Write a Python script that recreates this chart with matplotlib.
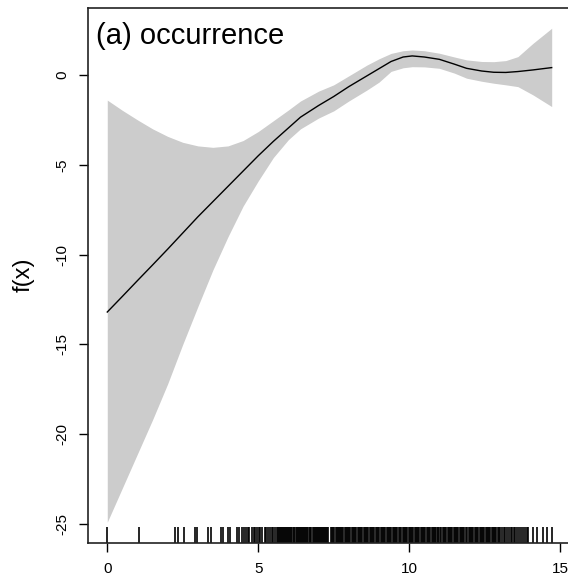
import numpy as np
import matplotlib
matplotlib.use("Agg")
import matplotlib.pyplot as plt

plt.rcParams['font.family'] = ['Liberation Sans', 'DejaVu Sans']

# smooth term estimate and its confidence band
x_fit = [0.0, 0.5, 1.0, 1.5, 2.0, 2.5, 3.0, 3.5, 4.0, 4.5, 5.0, 5.5, 6.0, 6.4,
         7.0, 7.5, 8.0, 8.6, 9.0, 9.4, 9.8, 10.1, 10.5, 11.0, 11.5, 11.9, 12.4,
         12.8, 13.2, 13.6, 14.1, 14.72]
fit = [-13.2, -12.33, -11.45, -10.58, -9.7, -8.8, -7.9, -7.05, -6.2, -5.35,
       -4.5, -3.7, -2.95, -2.35, -1.7, -1.2, -0.65, -0.05, 0.35, 0.75, 1.0,
       1.06, 1.0, 0.87, 0.6, 0.37, 0.22, 0.15, 0.14, 0.19, 0.28, 0.41]
upper = [-1.4, -1.97, -2.5, -3.0, -3.42, -3.75, -3.95, -4.03, -3.95, -3.65,
         -3.15, -2.55, -1.95, -1.45, -0.9, -0.55, -0.05, 0.55, 0.9, 1.2, 1.35,
         1.39, 1.35, 1.21, 1.0, 0.84, 0.75, 0.74, 0.8, 1.02, 1.76, 2.6]
lower = [-24.9, -23.0, -21.1, -19.2, -17.2, -15.0, -12.9, -10.85, -9.0, -7.3,
         -5.9, -4.6, -3.6, -3.0, -2.4, -2.0, -1.45, -0.84, -0.4, 0.2, 0.4,
         0.46, 0.45, 0.37, 0.1, -0.18, -0.35, -0.46, -0.55, -0.65, -1.11, -1.76]

# observed covariate values (rug)
rug_x = [0.0, 1.05, 2.25, 2.34, 2.55, 2.92, 2.96, 3.33, 3.42, 3.78, 3.83, 4.0,
         4.05, 4.3, 4.37, 4.45, 4.52, 4.58, 4.66, 4.71, 4.79, 4.86, 4.90, 4.97,
         5.02, 5.07, 5.13, 5.21, 5.25, 5.32, 5.38, 5.44, 5.49, 5.55, 5.61, 5.66,
         5.70, 5.73, 5.76, 5.79, 5.82, 5.86, 5.89, 5.92, 5.95, 5.99, 6.03, 6.06,
         6.10, 6.13, 6.17, 6.20, 6.24, 6.28, 6.31, 6.34, 6.38, 6.41, 6.45, 6.48,
         6.52, 6.56, 6.59, 6.62, 6.66, 6.70, 6.73, 6.76, 6.80, 6.84, 6.87, 6.90,
         6.94, 6.97, 7.01, 7.04, 7.08, 7.11, 7.15, 7.18, 7.22, 7.25, 7.29, 7.32,
         7.41, 7.45, 7.48, 7.52, 7.56, 7.60, 7.63, 7.67, 7.71, 7.74, 7.78, 7.82,
         7.86, 7.90, 7.94, 7.97, 8.01, 8.05, 8.09, 8.13, 8.17, 8.21, 8.25, 8.29,
         8.33, 8.37, 8.41, 8.45, 8.49, 8.53, 8.57, 8.61, 8.65, 8.69, 8.73, 8.77,
         8.81, 8.85, 8.89, 8.93, 8.97, 9.01, 9.05, 9.09, 9.13, 9.17, 9.21, 9.25,
         9.29, 9.33, 9.37, 9.41, 9.45, 9.49, 9.53, 9.57, 9.61, 9.65, 9.69, 9.72,
         9.78, 9.82, 9.86, 9.90, 9.94, 9.98, 10.02, 10.06, 10.10, 10.14, 10.18,
         10.22, 10.26, 10.30, 10.34, 10.38, 10.42, 10.46, 10.50, 10.54, 10.58,
         10.62, 10.66, 10.70, 10.74, 10.78, 10.82, 10.86, 10.90, 10.94, 10.97,
         11.03, 11.07, 11.11, 11.15, 11.19, 11.23, 11.27, 11.31, 11.35, 11.39,
         11.43, 11.47, 11.51, 11.55, 11.59, 11.63, 11.67, 11.71, 11.75, 11.79,
         11.83, 11.87, 11.93, 11.97, 12.01, 12.05, 12.09, 12.13, 12.17, 12.21,
         12.25, 12.29, 12.33, 12.37, 12.41, 12.45, 12.49, 12.53, 12.57, 12.61,
         12.65, 12.69, 12.73, 12.77, 12.81, 12.85, 12.89, 12.93, 12.97, 13.02,
         13.08, 13.13, 13.19, 13.24, 13.30, 13.36, 13.41, 13.47, 13.52, 13.58,
         13.64, 13.70, 13.76, 13.83, 13.90, 13.94, 14.10, 14.22, 14.44, 14.55,
         14.72]

x_ticks = [0, 5, 10, 15]
y_ticks = [0, -5, -10, -15, -20, -25]

fig = plt.figure(figsize=(5.68, 5.86), dpi=100)
ax = fig.add_axes([0.1549, 0.0734, 0.852, 0.913])

ax.fill_between(x_fit, lower, upper, color='#cccccc', lw=0)
ax.plot(x_fit, fit, color='black', lw=1.0)
ax.vlines(rug_x, 0, 0.03, transform=ax.get_xaxis_transform(),
          color='black', lw=1.2)

ax.set_xlim(-0.639, 15.39)
ax.set_ylim(-26.06, 3.73)
ax.set_xticks(x_ticks)
ax.set_yticks(y_ticks)
ax.set_yticklabels([str(v) for v in y_ticks], rotation=90, va='center')
ax.tick_params(length=6.5, width=1, labelsize=11, pad=7)

for s in ax.spines.values():
    s.set_linewidth(1.2)
    s.set_color('#222222')

ax.text(0.0165, 0.9327, '(a) occurrence', transform=ax.transAxes,
        fontsize=21, ha='left', va='baseline')
fig.text(24 / 568, 1 - 275 / 586, 'f(x)', rotation=90, fontsize=17,
         ha='center', va='center')

fig.savefig('out.png', dpi=100)
